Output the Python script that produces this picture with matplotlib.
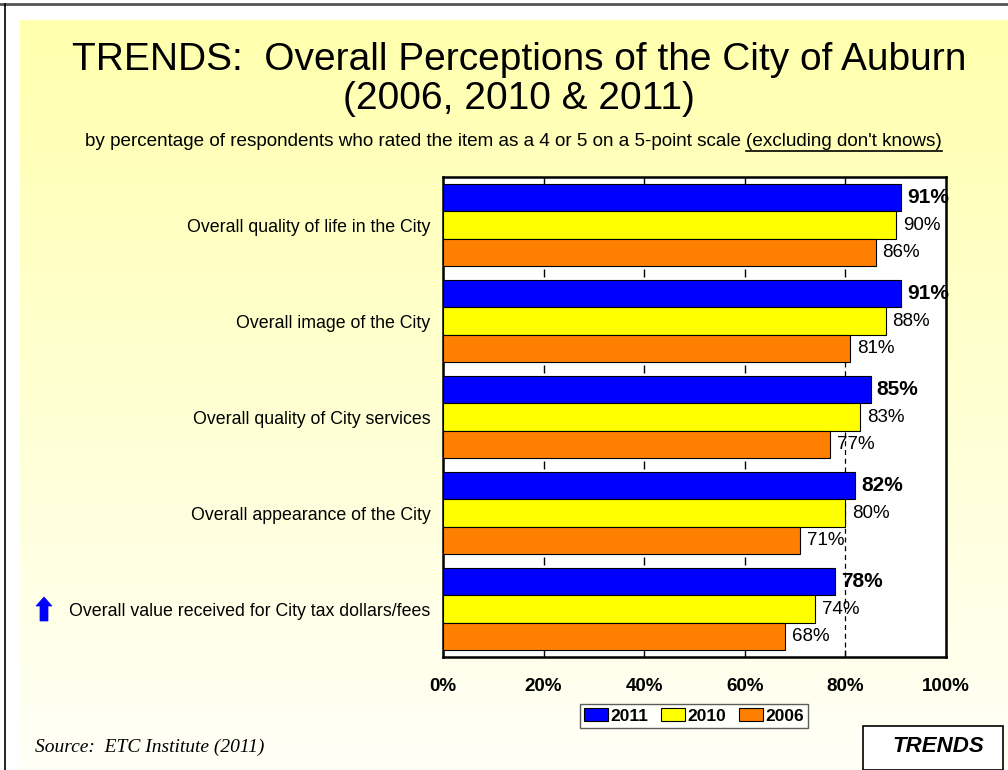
import numpy as np
import matplotlib
matplotlib.use("Agg")
import matplotlib.pyplot as plt
from matplotlib import font_manager
from matplotlib.patches import Polygon, Rectangle, Patch
from matplotlib.lines import Line2D

# ---------------- data ----------------
categories = [
    "Overall quality of life in the City",
    "Overall image of the City",
    "Overall quality of City services",
    "Overall appearance of the City",
    "Overall value received for City tax dollars/fees",
]
series_names = ["2011", "2010", "2006"]
values_2011 = [91, 91, 85, 82, 78]
values_2010 = [90, 88, 83, 80, 74]
values_2006 = [86, 81, 77, 71, 68]
x_ticks = [0, 20, 40, 60, 80, 100]
x_tick_labels = ["0%", "20%", "40%", "60%", "80%", "100%"]

colors = ["#0000FF", "#FFFF00", "#FF8000"]

W, H = 1008, 770
DPI = 100

names = {f.name for f in font_manager.fontManager.ttflist}
NARROW = "Liberation Sans Narrow" if "Liberation Sans Narrow" in names else "Liberation Sans"
SANS = "Liberation Sans"
SERIF = "Liberation Serif"
plt.rcParams["font.family"] = [SANS, "DejaVu Sans"]

fig = plt.figure(figsize=(W / DPI, H / DPI), dpi=DPI)
fig.patch.set_facecolor("white")

def fx(px):
    return px / W

def fy(py):
    return 1 - py / H

# background gradient
bg = fig.add_axes([fx(20), 0, 1 - fx(20), fy(20)], zorder=-10)
grad = np.linspace(0, 1, 256).reshape(-1, 1)
top = np.array([1.0, 1.0, 0.68])
bot = np.array([1.0, 1.0, 0.97])
img = top[None, None, :] * (1 - grad[:, :, None]) + bot[None, None, :] * grad[:, :, None]
bg.imshow(img, aspect="auto", extent=[0, 1, 0, 1], origin="upper")
bg.set_axis_off()

# outer frame lines
fig.add_artist(Line2D([0, 1], [fy(4), fy(4)], transform=fig.transFigure, color="#555555", lw=2))
fig.add_artist(Line2D([fx(5), fx(5)], [0, fy(4)], transform=fig.transFigure, color="black", lw=1.2))

# ---------------- main axes ----------------
ax = fig.add_axes([fx(443), fy(657), fx(946) - fx(443), fy(177) - fy(657)])
ax.set_facecolor("white")
n = len(categories)
h = 0.286
centers = np.arange(n) + 0.5
all_vals = [values_2011, values_2010, values_2006]
for k, (vals, c) in enumerate(zip(all_vals, colors)):
    ypos = centers + (k - 1) * h
    ax.barh(ypos, vals, height=h, color=c, edgecolor="black", linewidth=0.8, zorder=3)
    for y, v in zip(ypos, vals):
        if k == 0:
            ax.annotate(f"{v}%", (v, y), xytext=(4.5, 0), textcoords="offset points",
                        ha="left", va="center", fontsize=15, fontweight="bold", zorder=5)
        else:
            ax.annotate(f"{v}%", (v, y), xytext=(5, 0), textcoords="offset points",
                        ha="left", va="center", fontsize=13.5, zorder=5)

ax.set_xlim(0, 100)
ax.set_ylim(n, 0)

# tick marks inside plot at group boundaries
for xv in x_ticks[1:-1]:
    ax.vlines(xv, 0, 0.07, color="black", lw=1, zorder=1)
    ax.vlines(xv, n - 0.07, n, color="black", lw=1, zorder=1)
    for b in range(1, n):
        if xv == 80 and b >= 2:
            continue
        ax.vlines(xv, b - 0.045, b + 0.045, color="black", lw=1, zorder=1)
ax.vlines(80, 2 - 0.07, n, color="black", lw=0.9, linestyles=(0, (4, 3)), zorder=1)

ax.set_xticks(x_ticks)
ax.set_xticklabels(x_tick_labels, fontsize=13.5, fontweight="bold")
ax.tick_params(axis="x", length=0, pad=15)
ax.set_yticks(centers)
ax.set_yticklabels(categories, fontsize=12.8)
ax.tick_params(axis="y", length=0, pad=9)
for s in ax.spines.values():
    s.set_linewidth(1.8)
    s.set_color("black")

# arrow icon before last category
arrow = [(36, 606), (44, 597), (52, 606), (48, 606), (48, 621), (40, 621), (40, 606)]
fig.add_artist(Polygon([(fx(x), fy(y)) for x, y in arrow], closed=True,
                       transform=fig.transFigure, facecolor="#0000FF", edgecolor="#0000FF", lw=0.5))

# ---------------- titles ----------------
fig.text(fx(519), fy(60), "TRENDS:  Overall Perceptions of the City of Auburn",
         ha="center", va="center", fontsize=28, family=[NARROW, "DejaVu Sans"])
fig.text(fx(519), fy(99), "(2006, 2010 & 2011)",
         ha="center", va="center", fontsize=28, family=[NARROW, "DejaVu Sans"])

sub1 = "by percentage of respondents who rated the item as a 4 or 5 on a 5-point scale "
sub2 = "(excluding don't knows)"
fig.canvas.draw()
r = fig.canvas.get_renderer()
t1 = fig.text(0, fy(142), sub1, ha="left", va="center", fontsize=13.6, family=[NARROW, "DejaVu Sans"])
t2 = fig.text(0, fy(142), sub2, ha="left", va="center", fontsize=13.6, family=[NARROW, "DejaVu Sans"])
w1 = t1.get_window_extent(r).width
w2 = t2.get_window_extent(r).width
start = 513.5 - (w1 + w2) / 2
t1.set_x(fx(start))
t2.set_x(fx(start + w1))
fig.add_artist(Line2D([fx(start + w1), fx(start + w1 + w2)], [fy(151), fy(151)],
                      transform=fig.transFigure, color="black", lw=1.2))

# ---------------- legend ----------------
handles = [Patch(facecolor=c, edgecolor="black", linewidth=0.8) for c in colors]
leg = fig.legend(handles, series_names, loc="center", bbox_to_anchor=(fx(694), fy(716)),
                 ncol=3, frameon=True, fancybox=False, edgecolor="#333333",
                 prop={"weight": "bold", "size": 12.5}, handlelength=1.4, handleheight=0.8,
                 handletextpad=0.15, columnspacing=0.7, borderpad=0.25, borderaxespad=0)
leg.get_frame().set_facecolor("white")
leg.get_frame().set_linewidth(1.0)

# source
fig.text(fx(35), fy(747), "Source:  ETC Institute (2011)", ha="left", va="center",
         fontsize=14, style="italic", family=[SERIF, "DejaVu Serif"])

# TRENDS box
fig.add_artist(Rectangle((fx(863), 0), fx(1003) - fx(863), fy(726), transform=fig.transFigure,
                         facecolor="white", edgecolor="black", lw=1.2))
fig.text(fx(938), fy(746), "TRENDS", ha="center", va="center", fontsize=16,
         fontweight="bold", style="italic")

fig.savefig("out.png", dpi=DPI)
